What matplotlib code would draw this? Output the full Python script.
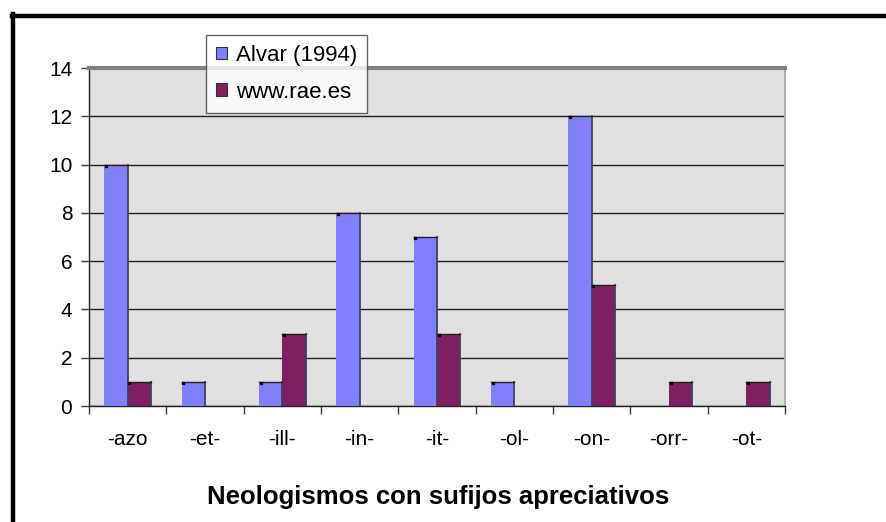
import matplotlib
matplotlib.use("Agg")
import matplotlib.pyplot as plt
from matplotlib.lines import Line2D
import numpy as np

# dati
categories = ["-azo", "-et-", "-ill-", "-in-", "-it-", "-ol-", "-on-", "-orr-", "-ot-"]
alvar = [10, 1, 1, 8, 7, 1, 12, 0, 0]
rae = [1, 0, 3, 0, 3, 0, 5, 1, 1]
series_names = ["Alvar (1994)", "www.rae.es"]
title = "Neologismos con sufijos apreciativos"

plt.rcParams["font.family"] = ["Liberation Sans", "DejaVu Sans"]

W, H = 887, 522
fig = plt.figure(figsize=(W / 100, H / 100), dpi=100)
ax = fig.add_axes([89 / W, 1 - 406 / H, (785 - 89) / W, (406 - 68) / H])

x = np.arange(len(categories))
bw = 0.3
c1, c2 = "#8080ff", "#801f5f"
b1 = ax.bar(x - bw / 2, alvar, bw, color=c1, edgecolor="none", zorder=3)
b2 = ax.bar(x + bw / 2, rae, bw, color=c2, edgecolor="none", zorder=3)

# bordo scuro a destra delle barre (effetto Excel)
for bars in (b1, b2):
    for r in bars:
        if r.get_height() > 0:
            x0 = r.get_x()
            x1 = x0 + r.get_width()
            h = r.get_height()
            ax.plot([x1, x1], [0, h], color="#404060", lw=1.3, zorder=4)
            ax.plot([x0, x1], [h, h], color="#202020", lw=1, zorder=4)
            ax.plot([x0 + 0.02], [h - 0.05], marker="s", ms=2, color="black", zorder=5)

ax.set_facecolor("#e0e0e0")
ax.set_xlim(-0.5, len(categories) - 0.5)
ax.set_ylim(0, 14)
ax.set_yticks(range(0, 15, 2))
ax.yaxis.grid(True, color="#202020", lw=1)
ax.set_axisbelow(True)

fs = 15
ax.set_xticks(x)
ax.set_xticklabels(categories, fontsize=fs)
ax.set_xticks(np.arange(-0.5, len(categories)), minor=True)
ax.tick_params(axis="x", which="major", length=0, pad=17)
ax.tick_params(axis="x", which="minor", length=6, width=1, color="#404040")
ax.tick_params(axis="y", length=6, width=1, labelsize=fs, pad=6, color="#404040")

for s in ("left", "bottom"):
    ax.spines[s].set_color("#202020")
    ax.spines[s].set_linewidth(1)
ax.spines["top"].set_color("#808080")
ax.spines["top"].set_linewidth(3)
ax.spines["right"].set_color("#b0b0b0")
ax.spines["right"].set_linewidth(1.5)

# legenda
leg = ax.legend([b1, b2], series_names, loc="upper left",
                bbox_to_anchor=(206 / W, 1 - 35 / H), bbox_transform=fig.transFigure,
                fontsize=16, frameon=True, fancybox=False, edgecolor="#404040",
                handlelength=0.5, handleheight=0.5, handletextpad=0.4,
                labelspacing=0.7, borderpad=0.45, borderaxespad=0)
leg.get_frame().set_linewidth(1)
leg.set_zorder(10)
for hnd in leg.legend_handles:
    hnd.set_edgecolor("#303030")
    hnd.set_linewidth(0.8)

fig.text(438 / W, 1 - 497 / H, title, ha="center", va="center",
         fontsize=18.5, fontweight="bold")

# cornice nera del grafico
fig.add_artist(Line2D([12 / W, 1], [1 - 15.5 / H] * 2, color="black", lw=3.2))
fig.add_artist(Line2D([13.5 / W] * 2, [1 - 14 / H, 0], color="black", lw=3.2))

fig.savefig("out.png", dpi=100)
